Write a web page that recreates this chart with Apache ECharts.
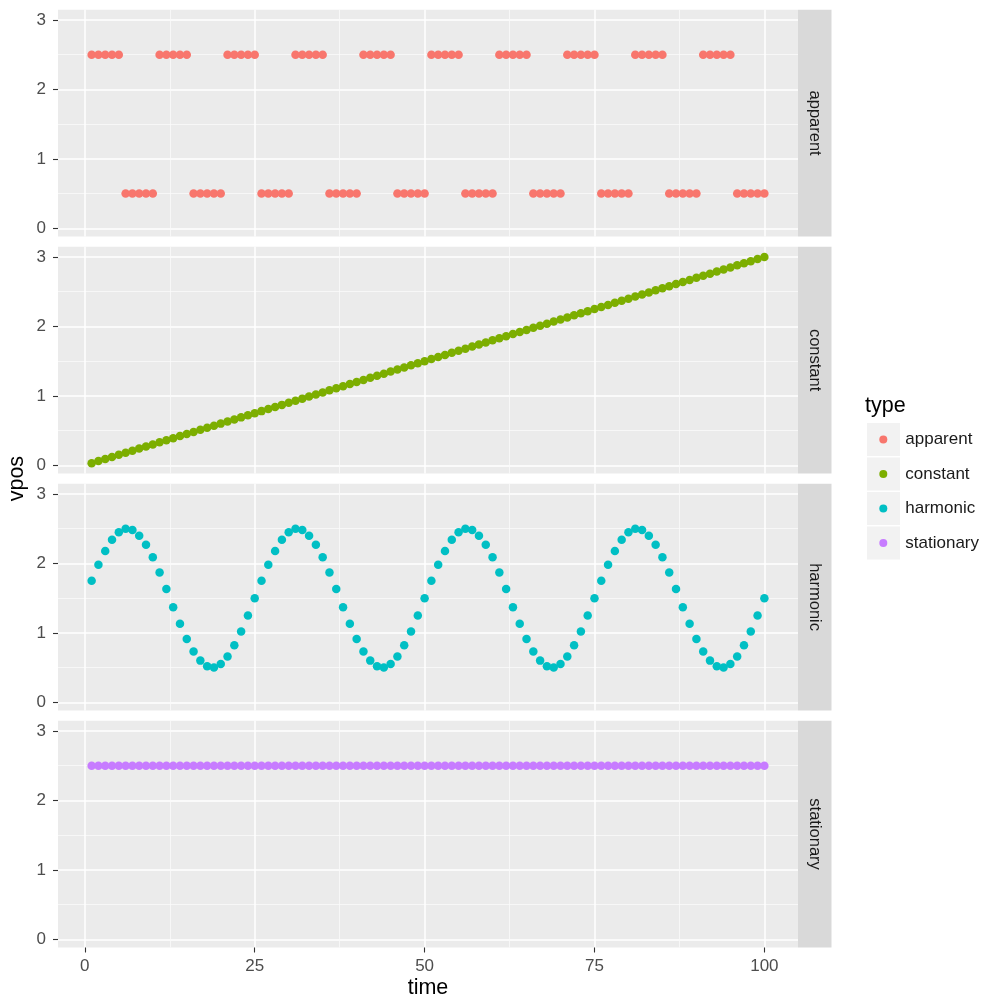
<!DOCTYPE html>
<html>
<head>
<meta charset="utf-8">
<script src="https://cdn.jsdelivr.net/npm/echarts@6/dist/echarts.min.js"></script>
<style>
html,body{margin:0;padding:0;background:#fff;}
#chart{width:986px;height:1002px;}
</style>
</head>
<body>
<div id="chart"></div>
<script>
// ---------------- data ----------------
const facets = ['apparent', 'constant', 'harmonic', 'stationary'];
const times = [
  1,2,3,4,5,6,7,8,9,10,
  11,12,13,14,15,16,17,18,19,20,
  21,22,23,24,25,26,27,28,29,30,
  31,32,33,34,35,36,37,38,39,40,
  41,42,43,44,45,46,47,48,49,50,
  51,52,53,54,55,56,57,58,59,60,
  61,62,63,64,65,66,67,68,69,70,
  71,72,73,74,75,76,77,78,79,80,
  81,82,83,84,85,86,87,88,89,90,
  91,92,93,94,95,96,97,98,99,100
];
const apparent = [
  2.5,2.5,2.5,2.5,2.5,0.5,0.5,0.5,0.5,0.5,
  2.5,2.5,2.5,2.5,2.5,0.5,0.5,0.5,0.5,0.5,
  2.5,2.5,2.5,2.5,2.5,0.5,0.5,0.5,0.5,0.5,
  2.5,2.5,2.5,2.5,2.5,0.5,0.5,0.5,0.5,0.5,
  2.5,2.5,2.5,2.5,2.5,0.5,0.5,0.5,0.5,0.5,
  2.5,2.5,2.5,2.5,2.5,0.5,0.5,0.5,0.5,0.5,
  2.5,2.5,2.5,2.5,2.5,0.5,0.5,0.5,0.5,0.5,
  2.5,2.5,2.5,2.5,2.5,0.5,0.5,0.5,0.5,0.5,
  2.5,2.5,2.5,2.5,2.5,0.5,0.5,0.5,0.5,0.5,
  2.5,2.5,2.5,2.5,2.5,0.5,0.5,0.5,0.5,0.5
];
const constant = [
  0.03,0.06,0.09,0.12,0.15,0.18,0.21,0.24,0.27,0.30,
  0.33,0.36,0.39,0.42,0.45,0.48,0.51,0.54,0.57,0.60,
  0.63,0.66,0.69,0.72,0.75,0.78,0.81,0.84,0.87,0.90,
  0.93,0.96,0.99,1.02,1.05,1.08,1.11,1.14,1.17,1.20,
  1.23,1.26,1.29,1.32,1.35,1.38,1.41,1.44,1.47,1.50,
  1.53,1.56,1.59,1.62,1.65,1.68,1.71,1.74,1.77,1.80,
  1.83,1.86,1.89,1.92,1.95,1.98,2.01,2.04,2.07,2.10,
  2.13,2.16,2.19,2.22,2.25,2.28,2.31,2.34,2.37,2.40,
  2.43,2.46,2.49,2.52,2.55,2.58,2.61,2.64,2.67,2.70,
  2.73,2.76,2.79,2.82,2.85,2.88,2.91,2.94,2.97,3.00
];
const harmonic = [
  1.75,1.98,2.18,2.34,2.45,2.50,2.48,2.40,2.27,2.09,1.87,1.63,1.37,1.13,0.91,0.73,0.60,0.52,0.50,0.55,0.66,0.82,1.02,1.25,1.50,
  1.75,1.98,2.18,2.34,2.45,2.50,2.48,2.40,2.27,2.09,1.87,1.63,1.37,1.13,0.91,0.73,0.60,0.52,0.50,0.55,0.66,0.82,1.02,1.25,1.50,
  1.75,1.98,2.18,2.34,2.45,2.50,2.48,2.40,2.27,2.09,1.87,1.63,1.37,1.13,0.91,0.73,0.60,0.52,0.50,0.55,0.66,0.82,1.02,1.25,1.50,
  1.75,1.98,2.18,2.34,2.45,2.50,2.48,2.40,2.27,2.09,1.87,1.63,1.37,1.13,0.91,0.73,0.60,0.52,0.50,0.55,0.66,0.82,1.02,1.25,1.50
];
const stationary = [
  2.5,2.5,2.5,2.5,2.5,2.5,2.5,2.5,2.5,2.5,
  2.5,2.5,2.5,2.5,2.5,2.5,2.5,2.5,2.5,2.5,
  2.5,2.5,2.5,2.5,2.5,2.5,2.5,2.5,2.5,2.5,
  2.5,2.5,2.5,2.5,2.5,2.5,2.5,2.5,2.5,2.5,
  2.5,2.5,2.5,2.5,2.5,2.5,2.5,2.5,2.5,2.5,
  2.5,2.5,2.5,2.5,2.5,2.5,2.5,2.5,2.5,2.5,
  2.5,2.5,2.5,2.5,2.5,2.5,2.5,2.5,2.5,2.5,
  2.5,2.5,2.5,2.5,2.5,2.5,2.5,2.5,2.5,2.5,
  2.5,2.5,2.5,2.5,2.5,2.5,2.5,2.5,2.5,2.5,
  2.5,2.5,2.5,2.5,2.5,2.5,2.5,2.5,2.5,2.5
];
const xTicks = [0, 25, 50, 75, 100];
const xMinorTicks = [12.5, 37.5, 62.5, 87.5];
const yTicks = [0, 1, 2, 3];
const yMinorTicks = [0.5, 1.5, 2.5];
const xTitle = 'time';
const yTitle = 'vpos';
const legendTitle = 'type';

// ---------------- layout / style ----------------
const seriesValues = [apparent, constant, harmonic, stationary];
const colors = ['#F8766D', '#7CAE00', '#00BFC4', '#C77CFF'];
const xMin = -3.95, xMax = 104.95;
const yMin = -0.1185, yMax = 3.1485;
const panelLeft = 58, panelRight = 798, stripW = 33.5;
const panelTops = [9.7, 246.7, 483.7, 720.7];
const panelH = 226.8;
const FONT = '"Liberation Sans", Arial, Helvetica, sans-serif';
const SMALL = 17;
const STRIP = 16.5;
const BIG = 21.5;

const grids = [], xAxes = [], yAxes = [], series = [], graphics = [];
facets.forEach((name, i) => {
  grids.push({
    left: panelLeft, width: panelRight - panelLeft, top: panelTops[i], height: panelH,
    show: true, backgroundColor: '#EBEBEB', borderWidth: 0, containLabel: false
  });
});
const isBottom = i => i === facets.length - 1;
// primary axes (major grid, labels)
facets.forEach((name, i) => {
  xAxes.push({
    type: 'value', gridIndex: i, min: xMin, max: xMax, position: 'bottom',
    axisLine: { show: false, onZero: false },
    axisTick: { show: isBottom(i), customValues: xTicks, length: 5, lineStyle: { color: '#333333', width: 1.1 } },
    axisLabel: { show: isBottom(i), customValues: xTicks, margin: 10, color: '#4D4D4D', fontSize: SMALL, fontFamily: FONT },
    splitLine: { show: true, lineStyle: { color: '#FFFFFF', width: 1.5 } },
    minorTick: { show: false }, minorSplitLine: { show: false }
  });
  yAxes.push({
    type: 'value', gridIndex: i, min: yMin, max: yMax, position: 'left',
    axisLine: { show: false, onZero: false },
    axisTick: { show: true, customValues: yTicks, length: 5, lineStyle: { color: '#333333', width: 1.1 } },
    axisLabel: { show: true, customValues: yTicks, margin: 12, color: '#4D4D4D', fontSize: SMALL, fontFamily: FONT },
    splitLine: { show: true, lineStyle: { color: '#FFFFFF', width: 1.5 } },
    minorTick: { show: false }, minorSplitLine: { show: false }
  });
});
// secondary axes (minor grid lines)
facets.forEach((name, i) => {
  xAxes.push({
    type: 'value', gridIndex: i, min: xMin, max: xMax,
    axisLine: { show: false, onZero: false },
    axisTick: { show: false, customValues: xMinorTicks },
    axisLabel: { show: false, customValues: xMinorTicks },
    splitLine: { show: true, lineStyle: { color: '#FAFAFA', width: 0.8 } }
  });
  yAxes.push({
    type: 'value', gridIndex: i, min: yMin, max: yMax,
    axisLine: { show: false, onZero: false },
    axisTick: { show: false, customValues: yMinorTicks },
    axisLabel: { show: false, customValues: yMinorTicks },
    splitLine: { show: true, lineStyle: { color: '#FAFAFA', width: 0.8 } }
  });
});
facets.forEach((name, i) => {
  series.push({
    name: name, type: 'scatter', xAxisIndex: i, yAxisIndex: i,
    symbol: 'circle', symbolSize: 8.5,
    itemStyle: { color: colors[i], opacity: 1 },
    data: times.map((t, k) => [t, seriesValues[i][k]]),
    z: 5, silent: true
  });
  // strip
  graphics.push({
    type: 'rect', left: panelRight, top: panelTops[i],
    shape: { width: stripW, height: panelH }, style: { fill: '#D9D9D9' }, silent: true
  });
  graphics.push({
    type: 'text', x: panelRight + stripW / 2, y: panelTops[i] + panelH / 2,
    rotation: -Math.PI / 2,
    style: { text: name, fill: '#1A1A1A', font: STRIP + 'px ' + FONT, align: 'center', verticalAlign: 'middle' },
    silent: true
  });
});
// axis titles
graphics.push({
  type: 'text', x: (panelLeft + panelRight) / 2, y: 988,
  style: { text: xTitle, fill: '#000000', font: BIG + 'px ' + FONT, align: 'center', verticalAlign: 'middle' }, silent: true
});
graphics.push({
  type: 'text', x: 17, y: (panelTops[0] + panelTops[3] + panelH) / 2,
  rotation: Math.PI / 2,
  style: { text: yTitle, fill: '#000000', font: BIG + 'px ' + FONT, align: 'center', verticalAlign: 'middle' }, silent: true
});
// legend title and key boxes
graphics.push({
  type: 'text', x: 865, y: 406,
  style: { text: legendTitle, fill: '#000000', font: BIG + 'px ' + FONT, align: 'left', verticalAlign: 'middle' }, silent: true
});
const keyTops = [423, 457.5, 492, 526.5];
keyTops.forEach(t => {
  graphics.push({
    type: 'rect', left: 867, top: t, shape: { width: 33, height: 33 },
    style: { fill: '#F2F2F2' }, silent: true, z: -1
  });
});

const chart = echarts.init(document.getElementById('chart'), null, { renderer: 'canvas' });
chart.setOption({
  animation: false,
  backgroundColor: '#FFFFFF',
  grid: grids,
  xAxis: xAxes,
  yAxis: yAxes,
  series: series,
  legend: {
    data: facets, orient: 'vertical', left: 879.3, top: 429.5,
    icon: 'circle', itemWidth: 8, itemHeight: 8, itemGap: 14.5,
    padding: 0, selectedMode: false,
    textStyle: { color: '#1A1A1A', fontSize: SMALL, fontFamily: FONT, lineHeight: 20, padding: [0, 0, 0, 13] }
  },
  graphic: graphics
});
</script>
</body>
</html>
